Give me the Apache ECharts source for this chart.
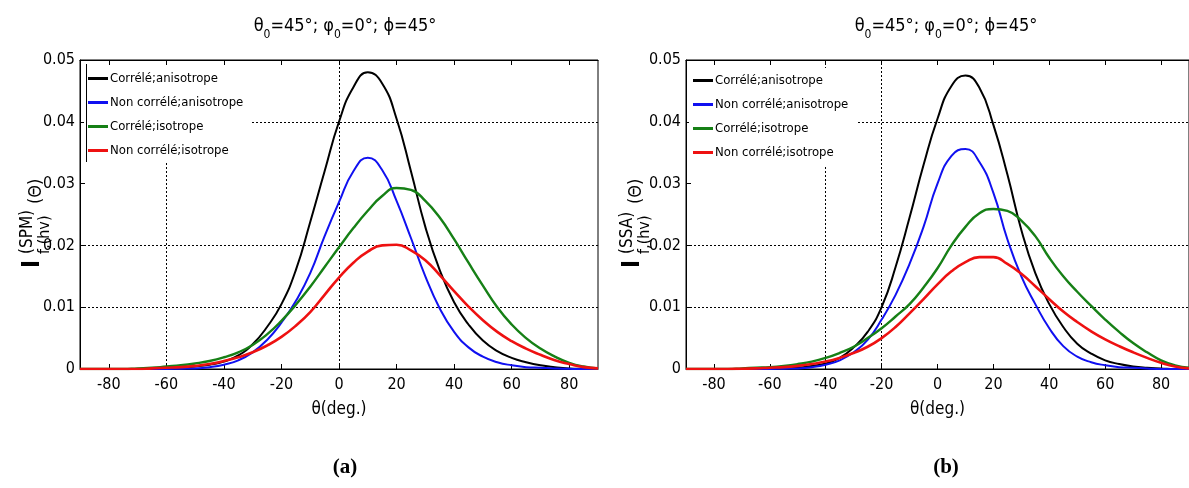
<!DOCTYPE html>
<html>
<head>
<meta charset="utf-8">
<title>Intensité diffusée hv</title>
<script src="https://cdn.jsdelivr.net/npm/echarts@6/dist/echarts.min.js"></script>
<style>
html, body { margin: 0; padding: 0; background: #fff; }
#chart { width: 1189px; height: 488px; }
</style>
</head>
<body>
<div id="chart"></div>
<script>
// angles (deg.)
var theta = [-90,-85,-80,-75,-70,-65,-60,-55,-50,-45,-40,-35,-30,-25,-20,-15,-10,-5,0,5,10,15,20,25,30,35,40,45,50,55,60,65,70,75,80,85,90];

// (a) SPM
var spmCorrAniso    = [0,0,0,0,0,0.00003,0.0001,0.0002,0.0004,0.0007,0.0012,0.0022,0.0040,0.0068,0.0105,0.0160,0.0238,0.0320,0.0400,0.0456,0.0480,0.0462,0.0405,0.0320,0.0230,0.0160,0.0108,0.0072,0.0046,0.0029,0.0018,0.0011,0.0006,0.0003,0.0001,0.00003,0];
var spmNonCorrAniso = [0,0,0,0,0,0,0,0.00005,0.0001,0.0003,0.0007,0.0014,0.0027,0.0047,0.0075,0.0110,0.0155,0.0215,0.0270,0.0320,0.0342,0.0322,0.0272,0.0212,0.0150,0.0098,0.0060,0.0035,0.0020,0.0011,0.0006,0.0003,0.0002,0.0001,0.00003,0,0];
var spmCorrIso      = [0,0,0,0,0.0001,0.0002,0.0004,0.0006,0.0009,0.0013,0.0019,0.0027,0.0039,0.0056,0.0078,0.0104,0.0133,0.0165,0.0197,0.0228,0.0256,0.0280,0.0293,0.0290,0.0272,0.0245,0.0210,0.0172,0.0135,0.0100,0.0072,0.0050,0.0033,0.0020,0.0010,0.0004,0.0001];
var spmNonCorrIso   = [0,0,0,0,0,0.0001,0.0002,0.0003,0.0005,0.0008,0.0013,0.0019,0.0027,0.0038,0.0052,0.0070,0.0092,0.0120,0.0148,0.0172,0.0190,0.0200,0.0201,0.0192,0.0176,0.0152,0.0126,0.0101,0.0079,0.0060,0.0045,0.0033,0.0023,0.0014,0.0008,0.0003,0.0001];

// (b) SSA
var ssaCorrAniso    = [0,0,0,0,0,0,0.00003,0.0001,0.0002,0.0005,0.0009,0.0018,0.0035,0.0060,0.0100,0.0165,0.0245,0.0330,0.0405,0.0458,0.0475,0.0455,0.0395,0.0315,0.0225,0.0155,0.0105,0.0068,0.0041,0.0025,0.0014,0.0008,0.0004,0.0002,0.0001,0,0];
var ssaNonCorrAniso = [0,0,0,0,0,0,0,0.00005,0.0001,0.0003,0.0007,0.0014,0.0027,0.0047,0.0080,0.0120,0.0170,0.0230,0.0300,0.0345,0.0356,0.0335,0.0285,0.0210,0.0150,0.0105,0.0066,0.0037,0.0020,0.0011,0.0006,0.0003,0.0002,0.0001,0,0,0];
var ssaCorrIso      = [0,0,0,0,0.0001,0.0002,0.0003,0.0005,0.0008,0.0012,0.0018,0.0026,0.0036,0.0050,0.0066,0.0085,0.0105,0.0132,0.0163,0.0200,0.0230,0.0252,0.0259,0.0256,0.0240,0.0215,0.0180,0.0150,0.0125,0.0102,0.0080,0.0060,0.0042,0.0027,0.0014,0.0006,0.0002];
var ssaNonCorrIso   = [0,0,0,0,0.00005,0.0001,0.0002,0.0003,0.0005,0.0008,0.0012,0.0018,0.0026,0.0036,0.0050,0.0068,0.0090,0.0113,0.0137,0.0158,0.0173,0.0181,0.0181,0.0170,0.0154,0.0134,0.0113,0.0093,0.0076,0.0061,0.0048,0.0037,0.0027,0.0018,0.0010,0.0004,0.0001];

var names = ['Corrélé;anisotrope', 'Non corrélé;anisotrope', 'Corrélé;isotrope', 'Non corrélé;isotrope'];
var colors = ['#000000', '#1010f0', '#168016', '#ee1111'];
var widths = [2, 2, 2.4, 2.6];

var xTicks = [-80, -60, -40, -20, 0, 20, 40, 60, 80];
// grid lines that show in each panel
var gridXa = [-60, 0];
var gridXb = [-40, -20];
var gridY = [0.01, 0.02, 0.04];

var font = '"DejaVu Sans Condensed", "Liberation Sans Narrow", sans-serif';

var myChart = echarts.init(document.getElementById('chart'));

function pairs(arr) {
    return theta.map(function (t, i) { return [t, arr[i]]; });
}

function bottomX(gi) {
    return {
        type: 'value', gridIndex: gi, min: -90, max: 90,
        name: 'θ(deg.)', nameLocation: 'middle', nameGap: 32,
        nameTextStyle: { fontFamily: font, fontSize: 17, color: '#000' },
        axisLine: { onZero: false, lineStyle: { color: '#000', width: 1 } },
        axisTick: { inside: true, length: 5, customValues: xTicks, lineStyle: { color: '#000' } },
        axisLabel: { customValues: xTicks, fontFamily: font, fontSize: 16, color: '#000', margin: 8 },
        splitLine: { show: false }
    };
}
function topX(gi) {
    return {
        type: 'value', gridIndex: gi, min: -90, max: 90, position: 'top',
        axisLine: { onZero: false, lineStyle: { color: '#000', width: 1 } },
        axisTick: { inside: true, length: 5, customValues: xTicks, lineStyle: { color: '#000' } },
        axisLabel: { show: false },
        splitLine: { show: false }
    };
}
function leftY(gi) {
    return {
        type: 'value', gridIndex: gi, min: 0, max: 0.05, interval: 0.01,
        axisLine: { show: true, onZero: false, lineStyle: { color: '#000', width: 1 } },
        axisTick: { show: true, inside: true, length: 5, lineStyle: { color: '#000' } },
        axisLabel: {
            fontFamily: font, fontSize: 16, color: '#000', margin: 5,
            formatter: function (v) { return v === 0 ? '0' : v.toFixed(2); }
        },
        splitLine: { show: false }
    };
}

function makeSeries(gi, arrays, gridX) {
    return arrays.map(function (arr, k) {
        var s = {
            name: names[k], type: 'line', xAxisIndex: gi, yAxisIndex: gi,
            data: pairs(arr), showSymbol: false, symbol: 'none',
            smooth: 0.5,
            lineStyle: { color: colors[k], width: widths[k] },
            itemStyle: { color: colors[k] },
            z: 3 + k
        };
        if (k === 0) {
            s.markLine = {
                silent: true, symbol: 'none', label: { show: false },
                lineStyle: { color: '#000', type: [2, 2], width: 1 },
                z: 1,
                data: gridX.map(function (v) { return { xAxis: v }; })
                    .concat(gridY.map(function (v) { return { yAxis: v }; }))
            };
        }
        return s;
    });
}

function legendAt(left, top) {
    return {
        data: names, orient: 'vertical', left: left, top: top,
        icon: 'rect', itemWidth: 20, itemHeight: 3, itemGap: 11,
        backgroundColor: '#fff', padding: [6, 8, 6, 4],
        selectedMode: false,
        textStyle: { fontFamily: font, fontSize: 13, color: '#000', padding: [0, 0, 0, -3] }
    };
}

var titleRich = {
    n: { fontFamily: font, fontSize: 18, fontWeight: 'normal', color: '#000', lineHeight: 20, verticalAlign: 'top' },
    s: { fontFamily: font, fontSize: 12, fontWeight: 'normal', color: '#000', lineHeight: 24, verticalAlign: 'bottom' }
};
var titleText = '{n|θ}{s|0}{n|=45°; φ}{s|0}{n|=0°; ϕ=45°}';

function yName(x, model) {
    return {
        type: 'group', x: x, y: 268, rotation: Math.PI / 2,
        children: [
            { type: 'text', x: 0, y: 0, style: { text: 'I', fontFamily: font, fontSize: 24, fontWeight: 'bold', fill: '#000', verticalAlign: 'bottom' } },
            { type: 'text', x: 14, y: -9, style: { text: model, fontFamily: font, fontSize: 17, fill: '#000', verticalAlign: 'bottom' } },
            { type: 'text', x: 14, y: 8, style: { text: 'f,(hv)', fontFamily: font, fontSize: 16, fill: '#000', verticalAlign: 'bottom' } },
            { type: 'text', x: 64, y: 0, style: { text: '(Θ)', fontFamily: font, fontSize: 18, fill: '#000', verticalAlign: 'bottom' } }
        ]
    };
}

var option = {
    animation: false,
    backgroundColor: '#fff',
    title: [
        { text: titleText, left: 340, top: 12, textAlign: 'center', textStyle: { rich: titleRich } },
        { text: titleText, left: 941, top: 12, textAlign: 'center', textStyle: { rich: titleRich } },
        { text: '(a)', left: 340, top: 452, textAlign: 'center', textStyle: { fontFamily: '"Liberation Serif", serif', fontSize: 21, fontWeight: 'bold', color: '#000' } },
        { text: '(b)', left: 941, top: 452, textAlign: 'center', textStyle: { fontFamily: '"Liberation Serif", serif', fontSize: 21, fontWeight: 'bold', color: '#000' } }
    ],
    grid: [
        { left: 80, top: 60, width: 518, height: 309, show: true, borderColor: '#000', borderWidth: 1, backgroundColor: 'transparent' },
        { left: 686, top: 60, width: 512, height: 309, show: true, borderColor: '#000', borderWidth: 1, backgroundColor: 'transparent' }
    ],
    xAxis: [bottomX(0), bottomX(1), topX(0), topX(1)],
    yAxis: [leftY(0), leftY(1)],
    legend: [legendAt(84, 66), legendAt(689, 68)],
    graphic: [
        yName(45, '(SPM)'),
        yName(645, '(SSA)'),
        { type: 'line', shape: { x1: 86.5, y1: 64, x2: 86.5, y2: 162 }, style: { stroke: '#000', lineWidth: 1 }, z: 10 }
    ],
    series: makeSeries(0, [spmCorrAniso, spmNonCorrAniso, spmCorrIso, spmNonCorrIso], gridXa)
        .concat(makeSeries(1, [ssaCorrAniso, ssaNonCorrAniso, ssaCorrIso, ssaNonCorrIso], gridXb))
};

myChart.setOption(option);
window.addEventListener('resize', function () {
    myChart.resize();
});
</script>
</body>
</html>
